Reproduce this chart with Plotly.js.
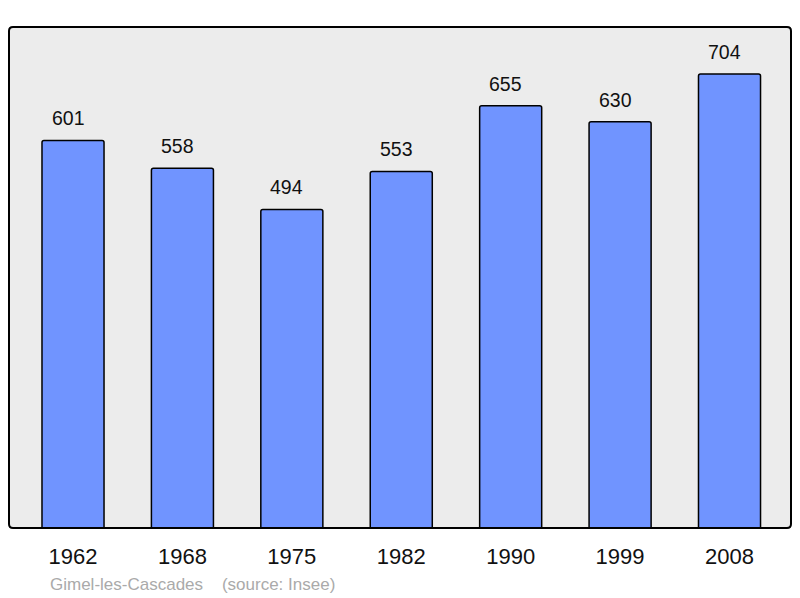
<!DOCTYPE html>
<html><head><meta charset="utf-8">
<script src="https://cdn.plot.ly/plotly-3.0.1.min.js"></script>
<style>html,body{margin:0;padding:0;background:#fff;}#chart{width:800px;height:598px;}</style>
</head><body><div id="chart"></div>
<script>
const years = ["1962","1968","1975","1982","1990","1999","2008"];
const population = [601,558,494,553,655,630,704];
const footerText = "Gimel-les-Cascades\u00a0\u00a0\u00a0\u00a0(source: Insee)";

const font = "Liberation Sans, Arial, sans-serif";
const idx = years.map((_, i) => i);

const trace = {
  type: "bar",
  x: idx,
  y: population,
  width: 0.567,
  marker: {color: "#7094ff", line: {color: "#000", width: 1.5}, cornerradius: 2},
  hoverinfo: "none"
};

const annotations = population.map((v, i) => ({
  x: i, y: v, xref: "x", yref: "y", text: String(v), showarrow: false,
  yanchor: "middle", yshift: 22, xshift: -5, font: {family: font, size: 19.5, color: "#111"}
}));
annotations.push({
  xref: "paper", yref: "paper", x: 0.0505, y: -0.112, xanchor: "left", yanchor: "middle",
  text: footerText, showarrow: false, font: {family: font, size: 17, color: "#aaaaaa"}
});

const rx = 4/782, ry = 4/501;
const path = `M ${rx} 0 L ${1-rx} 0 Q 1 0 1 ${ry} L 1 ${1-ry} Q 1 1 ${1-rx} 1 L ${rx} 1 Q 0 1 0 ${1-ry} L 0 ${ry} Q 0 0 ${rx} 0 Z`;

const layout = {
  width: 800, height: 598,
  margin: {l: 9, r: 9, t: 27, b: 70},
  paper_bgcolor: "#fff",
  plot_bgcolor: "#ececec",
  showlegend: false,
  xaxis: {
    range: [-0.585, 6.562], tickmode: "array", tickvals: idx, ticktext: years,
    showgrid: false, zeroline: false, showline: false, ticks: "",
    tickfont: {family: font, size: 22, color: "#111"}, ticklabelstandoff: 13, fixedrange: true
  },
  yaxis: {
    range: [0, 777], showgrid: false, zeroline: false, showline: false,
    showticklabels: false, ticks: "", fixedrange: true
  },
  shapes: [{type: "path", xref: "paper", yref: "paper", path: path, line: {color: "#000", width: 2}, layer: "above"}],
  annotations: annotations
};

Plotly.newPlot("chart", [trace], layout, {displayModeBar: false, staticPlot: true});
</script></body></html>
